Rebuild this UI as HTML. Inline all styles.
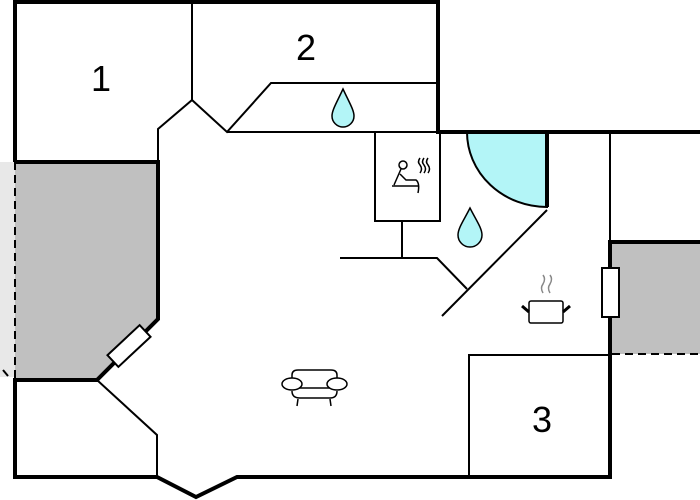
<!DOCTYPE html>
<html><head><style>html,body{margin:0;padding:0;background:#fff}svg{display:block}</style></head>
<body>
<svg width="700" height="500" viewBox="0 0 700 500" xmlns="http://www.w3.org/2000/svg" font-family="Liberation Sans, sans-serif">
<rect x="0" y="162" width="15" height="215" fill="#e8e8e8"/>
<polygon points="15,162 158,162 158,319 97,380 15,380" fill="#c0c0c0"/>
<rect x="612" y="242" width="88" height="112" fill="#c0c0c0"/>
<path d="M467,132 A80,75 0 0 0 547,207 L547,132 Z" fill="#b3f5f7" stroke="#000" stroke-width="2"/>
<g fill="none" stroke="#000" stroke-width="4">
<path d="M15,162 L15,2 L438,2 L438,132 L700,132"/>
<path d="M15,162 L158,162 L158,319 L97,380 L15,380 L15,477 L157,477 L196,497 L237,477 L610,477 L610,242 L700,242"/>
<path d="M547,132 L547,207"/>
</g>
<g fill="none" stroke="#000" stroke-width="2">
<path d="M192,2 L192,100 L158,129 L158,162"/>
<path d="M192,100 L227,132 L271,83 L438,83"/>
<path d="M227,132 L438,132"/>
<path d="M97,380 L157,435 L157,477"/>
<rect x="375" y="132" width="65" height="89"/>
<path d="M402,221 L402,258"/>
<path d="M340,258 L437,258 L467,289"/>
<path d="M442,316 L547,210"/>
<path d="M610,132 L610,242"/>
<path d="M469,476 L469,355 L610,355"/>
<path d="M3,370 L8,376"/>
</g>
<path d="M15,162 L15,380" stroke="#000" stroke-width="2" stroke-dasharray="8,5"/>
<path d="M612,354 L700,354" stroke="#000" stroke-width="2" stroke-dasharray="8,5"/>
<rect x="602" y="268" width="17" height="49" fill="#fff" stroke="#000" stroke-width="2"/>
<rect x="-22" y="-8" width="44" height="16" fill="#fff" stroke="#000" stroke-width="2" transform="translate(129,346) rotate(-43)"/>
<path d="M343,89 C337,102 332,110 332,116 A11,11 0 0 0 354,116 C354,110 349,102 343,89 Z" fill="#b3f5f7" stroke="#000" stroke-width="1.5"/>
<path d="M470,208 C464,220 458,228 458,235 A12,12 0 0 0 482,235 C482,228 476,220 470,208 Z" fill="#b3f5f7" stroke="#000" stroke-width="1.5"/>
<g fill="none" stroke="#000" stroke-width="1.5">
<circle cx="403" cy="165" r="4"/>
<path d="M401,169 L394,185 M392,186 L418,186 M400,174 L406,180 L416,180 Q420,183 418,193"/>
<path d="M420,158 q-3,4 0,7 q3,4 0,8 M424,158 q-3,4 0,7 q3,4 0,8 M428,158 q-3,4 0,7 q3,4 0,8"/>
<path d="M292,380 L292,375 Q292,370 298,370 L331,370 Q337,370 337,375 L337,380"/>
<path d="M298,388 L332,388 M292,391 Q292,398 300,398 L330,398 Q337,398 337,391"/>
<ellipse cx="292" cy="384" rx="10" ry="6" fill="#fff"/>
<ellipse cx="337" cy="384" rx="10" ry="6" fill="#fff"/>
<path d="M298,399 L297,406 M330,399 L331,406"/>
<rect x="529" y="301" width="34" height="22" rx="2" fill="#fff"/>
<path d="M522,306 L529,312 M570,306 L563,312" stroke-width="3"/>
<path d="M543,293 q-3,-5 0,-9 q3,-5 0,-9 M550,293 q-3,-5 0,-9 q3,-5 0,-9" stroke="#888"/>
</g>
<text x="101" y="91" font-size="36" text-anchor="middle">1</text>
<text x="306" y="60" font-size="36" text-anchor="middle">2</text>
<text x="542" y="432" font-size="36" text-anchor="middle">3</text>
</svg>
</body></html>
